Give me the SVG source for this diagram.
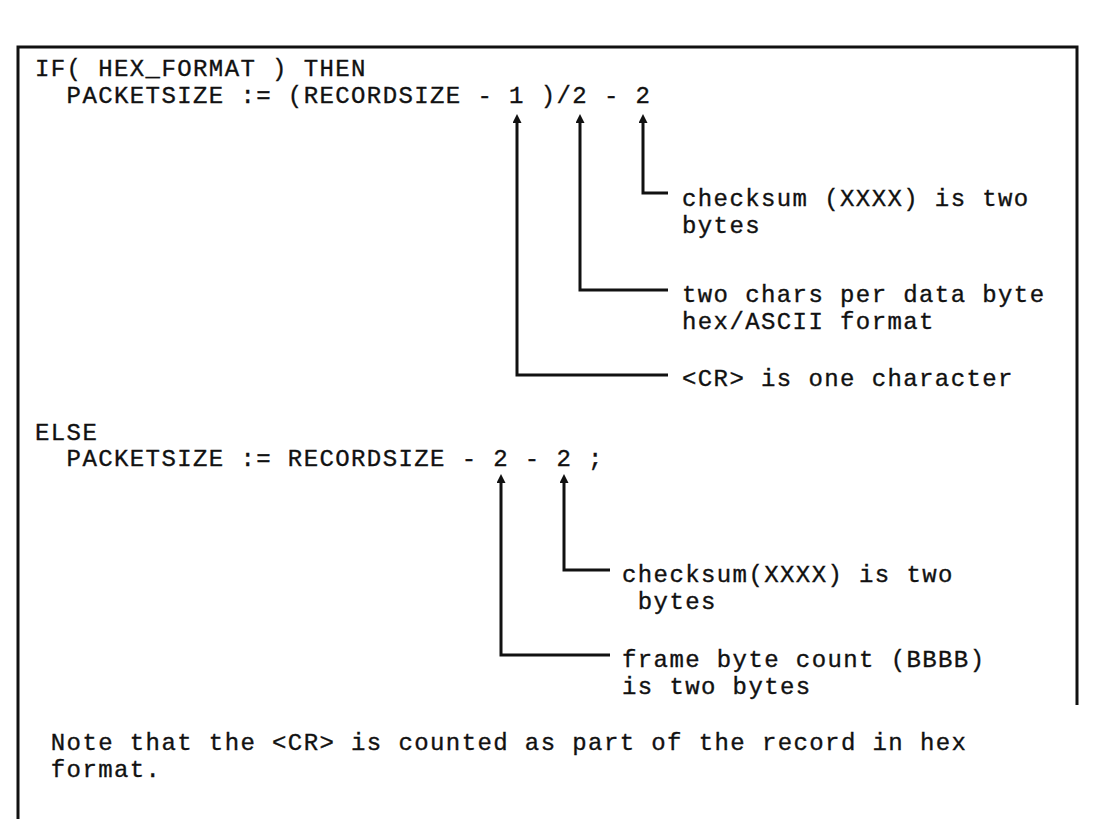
<svg xmlns="http://www.w3.org/2000/svg" width="1093" height="819" viewBox="0 0 1093 819">
<style>
text{font-family:"Liberation Mono","DejaVu Sans Mono",monospace;font-size:24px;letter-spacing:1.4px;fill:#111;stroke:#111;stroke-width:0.35;white-space:pre}
.c{fill:none;stroke:#111;stroke-width:3;stroke-linejoin:miter}
.b{fill:none;stroke:#111;stroke-width:3}
</style>
<defs>
<marker id="ah" viewBox="0 0 10 10" refX="1" refY="5" markerWidth="11" markerHeight="9" markerUnits="userSpaceOnUse" orient="auto">
<path d="M0,0 L10,5 L0,10 z" fill="#111"/>
</marker>
</defs>
<rect width="1093" height="819" fill="#fff"/>
<g id="frame">
<path class="b" d="M18,819 V47 H1077 V705"/>
</g>
<g id="hex">
<text x="35" y="76" xml:space="preserve">IF( HEX_FORMAT ) THEN</text>
<text x="35" y="103" xml:space="preserve">  PACKETSIZE := (RECORDSIZE - 1 )/2 - 2</text>
</g>
<g id="label-hex-checksum">
<text x="682" y="206">checksum (XXXX) is two</text>
<text x="682" y="233">bytes</text>
</g>
<g id="label-hex-chars">
<text x="682" y="302">two chars per data byte</text>
<text x="682" y="329">hex/ASCII format</text>
</g>
<g id="label-hex-cr">
<text x="682" y="386">&lt;CR&gt; is one character</text>
</g>
<g id="else">
<text x="35" y="440">ELSE</text>
<text x="35" y="466" xml:space="preserve">  PACKETSIZE := RECORDSIZE - 2 - 2 ;</text>
</g>
<g id="label-else-checksum">
<text x="622" y="582">checksum(XXXX) is two</text>
<text x="622" y="609" xml:space="preserve"> bytes</text>
</g>
<g id="label-else-count">
<text x="622" y="667">frame byte count (BBBB)</text>
<text x="622" y="694">is two bytes</text>
</g>
<g id="note">
<text x="35" y="750" xml:space="preserve"> Note that the &lt;CR&gt; is counted as part of the record in hex</text>
<text x="35" y="777" xml:space="preserve"> format.</text>
</g>
<g id="connectors">
<path class="c" d="M668,193 H643 V122" marker-end="url(#ah)"/>
<path class="c" d="M668,290 H580 V122" marker-end="url(#ah)"/>
<path class="c" d="M668,375 H517 V122" marker-end="url(#ah)"/>
<path class="c" d="M610,570 H564 V482" marker-end="url(#ah)"/>
<path class="c" d="M610,655 H501 V482" marker-end="url(#ah)"/>
</g>
</svg>
